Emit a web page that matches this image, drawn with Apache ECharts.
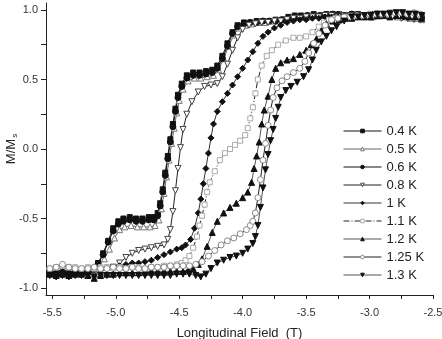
<!DOCTYPE html>
<html>
<head>
<meta charset="utf-8">
<script src="https://cdn.jsdelivr.net/npm/echarts@6/dist/echarts.min.js"></script>
<style>
  html, body { margin: 0; padding: 0; background: #fff; }
  #chart { width: 442px; height: 339px; }
</style>
</head>
<body>
<div id="chart"></div>
<script>
// field (T), M/Ms
const temps = ['0.4 K', '0.5 K', '0.6 K', '0.8 K', '1 K', '1.1 K', '1.2 K', '1.25 K', '1.3 K'];

const m04 = [[-5.52,-0.89],[-5.47,-0.90],[-5.42,-0.89],[-5.37,-0.90],[-5.32,-0.89],[-5.27,-0.89],[-5.22,-0.88],[-5.18,-0.86],[-5.14,-0.82],[-5.10,-0.75],[-5.06,-0.66],[-5.02,-0.57],[-4.98,-0.52],[-4.94,-0.50],[-4.89,-0.49],[-4.84,-0.50],[-4.79,-0.50],[-4.74,-0.49],[-4.70,-0.49],[-4.67,-0.46],[-4.65,-0.39],[-4.63,-0.29],[-4.61,-0.17],[-4.59,-0.05],[-4.57,0.07],[-4.55,0.18],[-4.53,0.29],[-4.51,0.39],[-4.48,0.47],[-4.44,0.53],[-4.39,0.55],[-4.34,0.55],[-4.29,0.56],[-4.24,0.57],[-4.20,0.60],[-4.16,0.67],[-4.12,0.76],[-4.08,0.84],[-4.04,0.89],[-3.99,0.91],[-3.94,0.91],[-3.89,0.92],[-3.84,0.92],[-3.79,0.92],[-3.74,0.93],[-3.69,0.93],[-3.64,0.95],[-3.59,0.96],[-3.54,0.96],[-3.49,0.96],[-3.44,0.97],[-3.39,0.96],[-3.34,0.97],[-3.29,0.97],[-3.24,0.97],[-3.19,0.96],[-3.14,0.97],[-3.09,0.97],[-3.04,0.96],[-2.99,0.97],[-2.94,0.97],[-2.89,0.97],[-2.84,0.98],[-2.79,0.97],[-2.74,0.97],[-2.69,0.96],[-2.64,0.97],[-2.59,0.96]];

const m05 = [[-5.52,-0.88],[-5.47,-0.89],[-5.42,-0.88],[-5.37,-0.89],[-5.32,-0.88],[-5.27,-0.88],[-5.22,-0.88],[-5.17,-0.87],[-5.13,-0.84],[-5.09,-0.79],[-5.05,-0.72],[-5.01,-0.64],[-4.97,-0.58],[-4.93,-0.56],[-4.88,-0.55],[-4.83,-0.56],[-4.78,-0.56],[-4.73,-0.56],[-4.69,-0.55],[-4.66,-0.51],[-4.64,-0.43],[-4.62,-0.32],[-4.60,-0.20],[-4.58,-0.08],[-4.56,0.04],[-4.54,0.15],[-4.52,0.26],[-4.50,0.35],[-4.47,0.43],[-4.43,0.49],[-4.38,0.51],[-4.33,0.51],[-4.28,0.52],[-4.23,0.53],[-4.19,0.57],[-4.15,0.65],[-4.11,0.74],[-4.07,0.82],[-4.03,0.87],[-3.98,0.89],[-3.93,0.90],[-3.88,0.91],[-3.83,0.91],[-3.78,0.92],[-3.73,0.92],[-3.68,0.93],[-3.63,0.94],[-3.58,0.95],[-3.53,0.95],[-3.48,0.95],[-3.43,0.96],[-3.38,0.96],[-3.33,0.96],[-3.28,0.96],[-3.23,0.97],[-3.18,0.96],[-3.13,0.96],[-3.08,0.96],[-3.03,0.96],[-2.98,0.95],[-2.93,0.96],[-2.88,0.96],[-2.83,0.96],[-2.78,0.95],[-2.73,0.95],[-2.68,0.94],[-2.63,0.94],[-2.59,0.93]];

const m06 = [[-5.52,-0.90],[-5.47,-0.91],[-5.42,-0.90],[-5.37,-0.91],[-5.32,-0.90],[-5.27,-0.90],[-5.22,-0.89],[-5.18,-0.87],[-5.14,-0.83],[-5.10,-0.76],[-5.06,-0.67],[-5.02,-0.59],[-4.98,-0.54],[-4.94,-0.52],[-4.89,-0.51],[-4.84,-0.52],[-4.79,-0.52],[-4.74,-0.51],[-4.70,-0.51],[-4.67,-0.48],[-4.65,-0.41],[-4.63,-0.31],[-4.61,-0.19],[-4.59,-0.07],[-4.57,0.05],[-4.55,0.16],[-4.53,0.27],[-4.51,0.37],[-4.48,0.45],[-4.44,0.51],[-4.39,0.53],[-4.34,0.53],[-4.29,0.54],[-4.24,0.55],[-4.20,0.58],[-4.16,0.65],[-4.12,0.74],[-4.08,0.83],[-4.04,0.88],[-3.99,0.90],[-3.94,0.91],[-3.89,0.91],[-3.84,0.92],[-3.79,0.92],[-3.74,0.92],[-3.69,0.93],[-3.64,0.94],[-3.59,0.95],[-3.54,0.95],[-3.49,0.96],[-3.44,0.96],[-3.39,0.96],[-3.34,0.96],[-3.29,0.97],[-3.24,0.96],[-3.19,0.96],[-3.14,0.97],[-3.09,0.96],[-3.04,0.96],[-2.99,0.96],[-2.94,0.97],[-2.89,0.96],[-2.84,0.96],[-2.79,0.96],[-2.74,0.95],[-2.69,0.95],[-2.64,0.95],[-2.59,0.94]];

const m08 = [[-5.52,-0.88],[-5.47,-0.88],[-5.42,-0.87],[-5.37,-0.88],[-5.32,-0.88],[-5.27,-0.88],[-5.22,-0.88],[-5.17,-0.89],[-5.12,-0.88],[-5.07,-0.87],[-5.02,-0.85],[-4.97,-0.82],[-4.92,-0.78],[-4.87,-0.75],[-4.82,-0.73],[-4.77,-0.72],[-4.72,-0.71],[-4.67,-0.70],[-4.62,-0.69],[-4.59,-0.65],[-4.57,-0.58],[-4.55,-0.45],[-4.53,-0.30],[-4.51,-0.14],[-4.49,0.01],[-4.47,0.14],[-4.44,0.25],[-4.40,0.34],[-4.35,0.41],[-4.30,0.45],[-4.25,0.46],[-4.20,0.47],[-4.16,0.52],[-4.12,0.61],[-4.08,0.71],[-4.04,0.80],[-4.00,0.86],[-3.95,0.89],[-3.90,0.90],[-3.85,0.91],[-3.80,0.91],[-3.75,0.92],[-3.70,0.92],[-3.65,0.93],[-3.60,0.94],[-3.55,0.94],[-3.50,0.95],[-3.45,0.95],[-3.40,0.95],[-3.35,0.96],[-3.30,0.96],[-3.25,0.95],[-3.20,0.96],[-3.15,0.96],[-3.10,0.95],[-3.05,0.96],[-3.00,0.96],[-2.95,0.95],[-2.90,0.96],[-2.85,0.95],[-2.80,0.95],[-2.75,0.94],[-2.70,0.94],[-2.65,0.93],[-2.60,0.93]];

const m10 = [[-5.52,-0.88],[-5.47,-0.89],[-5.42,-0.88],[-5.37,-0.89],[-5.32,-0.88],[-5.27,-0.88],[-5.22,-0.87],[-5.17,-0.87],[-5.12,-0.86],[-5.07,-0.85],[-5.02,-0.85],[-4.97,-0.84],[-4.92,-0.83],[-4.87,-0.82],[-4.82,-0.82],[-4.77,-0.81],[-4.72,-0.80],[-4.67,-0.78],[-4.62,-0.76],[-4.57,-0.74],[-4.52,-0.72],[-4.48,-0.71],[-4.45,-0.69],[-4.41,-0.65],[-4.38,-0.57],[-4.35,-0.46],[-4.33,-0.36],[-4.31,-0.25],[-4.29,-0.14],[-4.27,-0.03],[-4.25,0.08],[-4.23,0.18],[-4.20,0.27],[-4.16,0.34],[-4.12,0.40],[-4.08,0.46],[-4.04,0.52],[-4.00,0.58],[-3.96,0.64],[-3.92,0.70],[-3.88,0.76],[-3.84,0.81],[-3.80,0.84],[-3.75,0.87],[-3.70,0.89],[-3.65,0.91],[-3.60,0.92],[-3.55,0.93],[-3.50,0.93],[-3.45,0.94],[-3.40,0.94],[-3.35,0.95],[-3.30,0.95],[-3.25,0.95],[-3.20,0.96],[-3.15,0.95],[-3.10,0.96],[-3.05,0.96],[-3.00,0.96],[-2.95,0.96],[-2.90,0.97],[-2.85,0.96],[-2.80,0.96],[-2.75,0.96],[-2.70,0.95],[-2.65,0.95],[-2.60,0.95]];

const m11 = [[-5.52,-0.86],[-5.47,-0.85],[-5.42,-0.84],[-5.37,-0.85],[-5.32,-0.85],[-5.27,-0.86],[-5.22,-0.85],[-5.17,-0.86],[-5.12,-0.85],[-5.07,-0.85],[-5.02,-0.86],[-4.97,-0.85],[-4.92,-0.86],[-4.87,-0.85],[-4.82,-0.85],[-4.77,-0.86],[-4.72,-0.85],[-4.67,-0.85],[-4.62,-0.84],[-4.57,-0.84],[-4.52,-0.83],[-4.48,-0.82],[-4.45,-0.80],[-4.42,-0.77],[-4.39,-0.71],[-4.36,-0.63],[-4.34,-0.55],[-4.32,-0.48],[-4.30,-0.40],[-4.28,-0.31],[-4.26,-0.24],[-4.22,-0.16],[-4.18,-0.08],[-4.14,-0.03],[-4.10,0.00],[-4.06,0.03],[-4.02,0.06],[-3.98,0.10],[-3.96,0.15],[-3.94,0.22],[-3.92,0.30],[-3.90,0.40],[-3.88,0.50],[-3.85,0.60],[-3.81,0.67],[-3.77,0.71],[-3.72,0.75],[-3.66,0.78],[-3.60,0.80],[-3.55,0.80],[-3.50,0.81],[-3.45,0.84],[-3.40,0.88],[-3.36,0.91],[-3.32,0.93],[-3.27,0.94],[-3.22,0.94],[-3.17,0.95],[-3.12,0.95],[-3.07,0.95],[-3.02,0.96],[-2.97,0.96],[-2.92,0.95],[-2.87,0.96],[-2.82,0.96],[-2.77,0.96],[-2.72,0.97],[-2.67,0.96],[-2.62,0.96]];

const m12 = [[-5.52,-0.90],[-5.47,-0.91],[-5.42,-0.90],[-5.37,-0.91],[-5.32,-0.90],[-5.27,-0.90],[-5.22,-0.91],[-5.17,-0.93],[-5.12,-0.91],[-5.07,-0.90],[-5.02,-0.90],[-4.97,-0.89],[-4.92,-0.89],[-4.87,-0.89],[-4.82,-0.89],[-4.77,-0.88],[-4.72,-0.88],[-4.67,-0.88],[-4.62,-0.88],[-4.57,-0.88],[-4.52,-0.88],[-4.47,-0.88],[-4.43,-0.87],[-4.39,-0.86],[-4.35,-0.83],[-4.32,-0.79],[-4.28,-0.70],[-4.24,-0.60],[-4.20,-0.52],[-4.15,-0.46],[-4.10,-0.42],[-4.05,-0.39],[-4.00,-0.35],[-3.96,-0.31],[-3.93,-0.24],[-3.91,-0.14],[-3.89,-0.05],[-3.87,0.05],[-3.85,0.18],[-3.83,0.28],[-3.80,0.38],[-3.77,0.50],[-3.74,0.58],[-3.70,0.62],[-3.65,0.64],[-3.60,0.65],[-3.55,0.68],[-3.50,0.71],[-3.46,0.75],[-3.42,0.79],[-3.38,0.85],[-3.34,0.90],[-3.29,0.92],[-3.24,0.93],[-3.19,0.94],[-3.14,0.94],[-3.09,0.95],[-3.04,0.95],[-2.99,0.95],[-2.94,0.96],[-2.89,0.96],[-2.84,0.95],[-2.79,0.96],[-2.74,0.96],[-2.69,0.95],[-2.64,0.95],[-2.59,0.94]];

const m125 = [[-5.52,-0.86],[-5.47,-0.85],[-5.42,-0.83],[-5.37,-0.85],[-5.32,-0.86],[-5.27,-0.86],[-5.22,-0.86],[-5.17,-0.85],[-5.12,-0.86],[-5.07,-0.86],[-5.02,-0.85],[-4.97,-0.86],[-4.92,-0.86],[-4.87,-0.85],[-4.82,-0.86],[-4.77,-0.86],[-4.72,-0.85],[-4.67,-0.85],[-4.62,-0.85],[-4.57,-0.84],[-4.52,-0.84],[-4.47,-0.84],[-4.42,-0.84],[-4.37,-0.83],[-4.32,-0.81],[-4.27,-0.77],[-4.22,-0.73],[-4.17,-0.69],[-4.12,-0.66],[-4.07,-0.64],[-4.02,-0.61],[-3.97,-0.58],[-3.94,-0.55],[-3.92,-0.52],[-3.90,-0.46],[-3.88,-0.35],[-3.86,-0.22],[-3.84,-0.08],[-3.82,0.04],[-3.80,0.17],[-3.78,0.28],[-3.76,0.37],[-3.73,0.44],[-3.69,0.49],[-3.65,0.52],[-3.60,0.55],[-3.55,0.58],[-3.51,0.63],[-3.48,0.69],[-3.44,0.76],[-3.40,0.83],[-3.35,0.89],[-3.30,0.93],[-3.25,0.94],[-3.20,0.95],[-3.15,0.95],[-3.10,0.96],[-3.05,0.96],[-3.00,0.97],[-2.95,0.97],[-2.90,0.97],[-2.85,0.97],[-2.80,0.98],[-2.75,0.98],[-2.70,0.97],[-2.65,0.98],[-2.60,0.97]];

const m13 = [[-5.52,-0.91],[-5.47,-0.92],[-5.42,-0.91],[-5.37,-0.92],[-5.32,-0.91],[-5.27,-0.91],[-5.22,-0.91],[-5.17,-0.92],[-5.12,-0.91],[-5.07,-0.91],[-5.02,-0.91],[-4.97,-0.91],[-4.92,-0.91],[-4.87,-0.91],[-4.82,-0.91],[-4.77,-0.91],[-4.72,-0.91],[-4.67,-0.91],[-4.62,-0.91],[-4.57,-0.91],[-4.52,-0.90],[-4.47,-0.90],[-4.42,-0.90],[-4.37,-0.91],[-4.33,-0.92],[-4.29,-0.90],[-4.25,-0.86],[-4.20,-0.82],[-4.15,-0.80],[-4.10,-0.78],[-4.05,-0.77],[-4.00,-0.75],[-3.96,-0.72],[-3.92,-0.68],[-3.90,-0.63],[-3.88,-0.55],[-3.86,-0.42],[-3.84,-0.28],[-3.82,-0.15],[-3.80,-0.04],[-3.78,0.06],[-3.76,0.14],[-3.74,0.22],[-3.72,0.30],[-3.70,0.37],[-3.66,0.42],[-3.62,0.45],[-3.57,0.48],[-3.52,0.52],[-3.48,0.57],[-3.45,0.64],[-3.42,0.71],[-3.38,0.77],[-3.34,0.81],[-3.30,0.85],[-3.26,0.88],[-3.20,0.92],[-3.14,0.95],[-3.09,0.95],[-3.04,0.96],[-2.99,0.96],[-2.94,0.97],[-2.89,0.97],[-2.84,0.97],[-2.79,0.98],[-2.74,0.98],[-2.69,0.97],[-2.64,0.97],[-2.59,0.96]];

const xTicks = [-5.5, -5.25, -5.0, -4.75, -4.5, -4.25, -4.0, -3.75, -3.5, -3.25, -3.0, -2.75, -2.5];
const xLabels = [-5.5, -5.0, -4.5, -4.0, -3.5, -3.0, -2.5];
const yTicks = [-1.0, -0.75, -0.5, -0.25, 0.0, 0.25, 0.5, 0.75, 1.0];
const yLabels = [-1.0, -0.5, 0.0, 0.5, 1.0];

const font = 'Liberation Sans, Arial, sans-serif';

// name, data, symbol, rotate, fill, stroke, line colour, dash
const mk = (name, data, symbol, rot, fill, stroke, line, dash) => ({
  name,
  type: 'line',
  data,
  symbol,
  symbolRotate: rot,
  symbolSize: symbol === 'rect' ? 5 : 6,
  itemStyle: { color: fill, borderColor: stroke, borderWidth: 1 },
  lineStyle: { color: line, width: 1, type: dash || 'solid' },
  emphasis: { disabled: true }
});

const series = [
  mk(temps[0], m04, 'rect', 0, '#111', '#111', '#111'),
  mk(temps[1], m05, 'triangle', 0, '#fff', '#777', '#666'),
  mk(temps[2], m06, 'circle', 0, '#111', '#111', '#111'),
  mk(temps[3], m08, 'triangle', 180, '#fff', '#444', '#222'),
  mk(temps[4], m10, 'diamond', 0, '#111', '#111', '#333'),
  mk(temps[5], m11, 'rect', 0, '#fff', '#aaa', '#222', [6, 2, 1, 2]),
  mk(temps[6], m12, 'triangle', 0, '#111', '#111', '#555'),
  mk(temps[7], m125, 'circle', 0, '#fff', '#888', '#222'),
  mk(temps[8], m13, 'triangle', 180, '#111', '#111', '#555')
];

const chart = echarts.init(document.getElementById('chart'), null, { renderer: 'canvas' });
chart.setOption({
  animation: false,
  backgroundColor: '#fff',
  textStyle: { fontFamily: font },
  grid: { left: 46, right: 9, top: 3, bottom: 44, containLabel: false, outerBoundsMode: 'none' },
  legend: {
    orient: 'vertical',
    left: 343,
    top: 124,
    padding: 0,
    itemWidth: 38,
    itemHeight: 4.5,
    itemGap: 4,
    lineStyle: { width: 1 },
    itemStyle: { borderWidth: 1 },
    textStyle: { fontSize: 13, color: '#222', fontFamily: font, lineHeight: 14 },
    data: temps
  },
  xAxis: {
    type: 'value',
    min: -5.55,
    max: -2.5,
    name: 'Longitudinal Field  (T)',
    nameLocation: 'middle',
    nameGap: 32,
    nameTextStyle: { fontSize: 13, color: '#222', fontFamily: font },
    axisLine: { onZero: false, lineStyle: { color: '#222', width: 1 } },
    axisTick: { customValues: xTicks, length: 4, lineStyle: { color: '#222' } },
    axisLabel: {
      customValues: xLabels,
      formatter: v => v.toFixed(1),
      fontSize: 11,
      color: '#333',
      margin: 12
    },
    splitLine: { show: false }
  },
  yAxis: {
    type: 'value',
    min: -1.05,
    max: 1.05,
    name: '{a|M/M}{b|s}',
    nameLocation: 'middle',
    nameRotate: 90,
    nameGap: 27,
    nameMoveOverlap: false,
    nameTextStyle: {
      rich: {
        a: { fontSize: 13, color: '#222', fontFamily: font, lineHeight: 16 },
        b: { fontSize: 8, color: '#222', fontFamily: font, lineHeight: 16, verticalAlign: 'bottom', padding: [6, 0, 0, 1] }
      }
    },
    axisLine: { onZero: false, lineStyle: { color: '#222', width: 1 } },
    axisTick: { customValues: yTicks, length: 5, lineStyle: { color: '#222' } },
    axisLabel: {
      customValues: yLabels,
      formatter: v => v.toFixed(1),
      fontSize: 11,
      color: '#333',
      margin: 8
    },
    splitLine: { show: false }
  },
  series
});
</script>
</body>
</html>
